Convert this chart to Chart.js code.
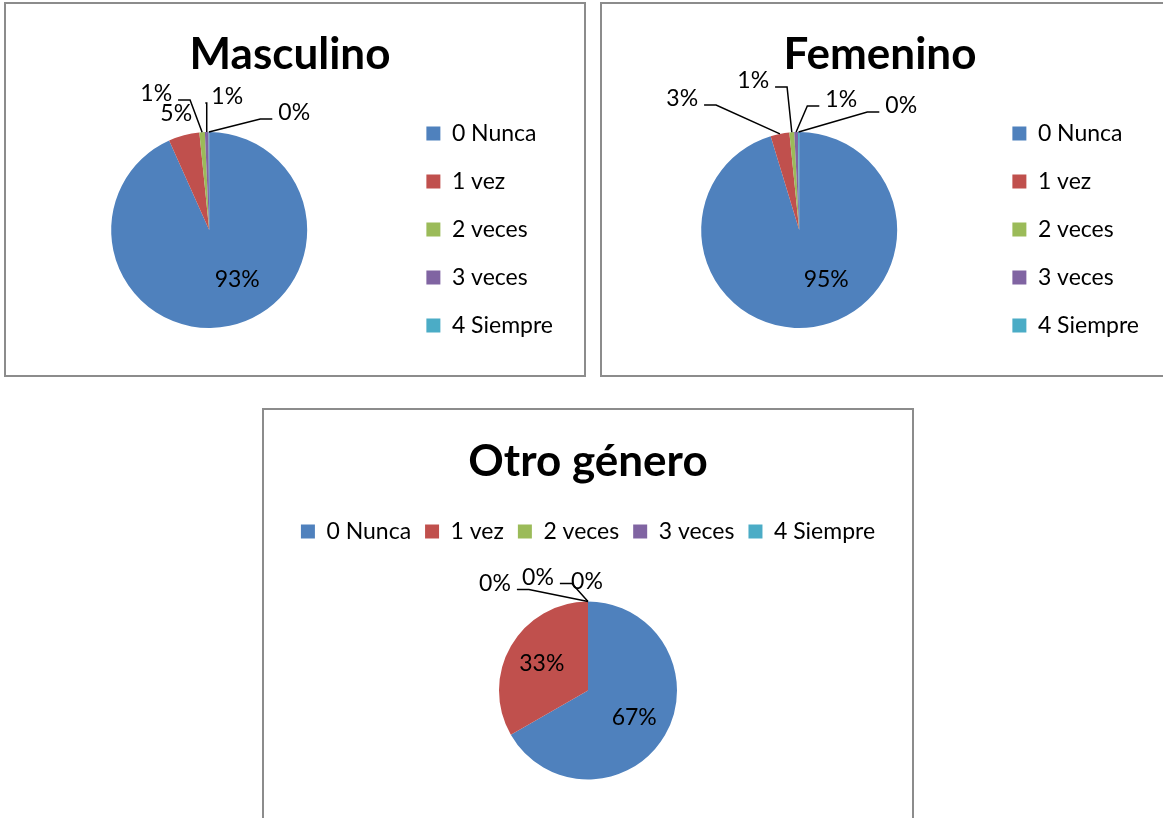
<!DOCTYPE html>
<html>
<head>
<meta charset="utf-8">
<script src="https://cdn.jsdelivr.net/npm/chart.js@4.4.1/dist/chart.umd.min.js"></script>
<style>
    html, body { margin: 0; padding: 0; background: #fff; width: 1163px; height: 818px; overflow: hidden; }
    .caja { position: absolute; border: 2px solid #8c8c8c; box-sizing: border-box; }
    canvas { position: absolute; }
</style>
</head>
<body>
<div class="caja" style="left:4px;top:2px;width:582px;height:375px"></div>
<div class="caja" style="left:600px;top:2px;width:580px;height:375px"></div>
<div class="caja" style="left:262px;top:408px;width:652px;height:500px"></div>
<canvas id="graficoMasculino" width="578" height="371" style="left:6px;top:4px"></canvas>
<canvas id="graficoFemenino" width="568" height="371" style="left:602px;top:4px"></canvas>
<canvas id="graficoOtro" width="648" height="430" style="left:264px;top:410px"></canvas>
<script>
// Datos (porcentajes)
const categorias = ['0 Nunca', '1 vez', '2 veces', '3 veces', '4 Siempre'];
const masculino = [93.3, 5.1, 0.9, 0.6, 0.1];
const femenino = [95.3, 3.1, 0.8, 0.6, 0.2];
const otroGenero = [66.7, 33.3, 0, 0, 0];
const colores = ['#4F81BD', '#C0504D', '#9BBB59', '#8064A2', '#4BACC6'];

const fuente = 'Lato, "Open Sans", sans-serif';

// Etiquetas de porcentaje con líneas guía (estilo Excel)
const etiquetasPlugin = {
    id: 'etiquetas',
    afterDatasetsDraw(chart, args, opts) {
        const ctx = chart.ctx;
        const meta = chart.getDatasetMeta(0);
        const data = chart.data.datasets[0].data;
        const total = data.reduce((a, b) => a + b, 0);
        ctx.save();
        ctx.font = '23px ' + fuente;
        ctx.fillStyle = '#000';
        ctx.strokeStyle = '#000';
        ctx.lineWidth = 1.5;
        ctx.textAlign = 'center';
        ctx.textBaseline = 'middle';
        meta.data.forEach((arc, i) => {
            const p = arc.getProps(['x', 'y', 'startAngle', 'endAngle', 'outerRadius'], true);
            const medio = (p.startAngle + p.endAngle) / 2;
            const texto = Math.round(data[i] / total * 100) + '%';
            const pos = opts.posiciones[i];
            let lx, ly;
            if (pos) {
                lx = p.x + pos[0];
                ly = p.y + pos[1];
            } else {
                lx = p.x + Math.cos(medio) * p.outerRadius * 0.6;
                ly = p.y + Math.sin(medio) * p.outerRadius * 0.6;
            }
            const ax = p.x + Math.cos(medio) * p.outerRadius;
            const ay = p.y + Math.sin(medio) * p.outerRadius;
            const fuera = Math.hypot(lx - p.x, ly - p.y) > p.outerRadius;
            if (fuera && Math.hypot(lx - ax, ly - ay) > 30) {
                const w = ctx.measureText(texto).width;
                const yl = ly + 6;
                let inicio, codo;
                if (lx > ax) {
                    inicio = lx - w / 2 - 6;
                    codo = Math.max(inicio - 12, ax);
                } else {
                    inicio = lx + w / 2 + 6;
                    codo = Math.min(inicio + 12, ax);
                }
                ctx.beginPath();
                ctx.moveTo(inicio, yl);
                ctx.lineTo(codo, yl);
                ctx.lineTo(ax, ay);
                ctx.stroke();
            }
            ctx.fillText(texto, lx, ly);
        });
        ctx.restore();
    }
};

function crearPie(id, titulo, valores, cfg) {
    return new Chart(document.getElementById(id), {
        type: 'pie',
        data: {
            labels: categorias,
            datasets: [{
                data: valores,
                backgroundColor: colores,
                borderWidth: 0,
                radius: cfg.radio
            }]
        },
        options: {
            responsive: false,
            animation: false,
            events: [],
            layout: { padding: cfg.padding },
            plugins: {
                title: {
                    display: true,
                    text: titulo,
                    color: '#000',
                    font: { family: fuente, size: 44, weight: 'bold', lineHeight: '48px' },
                    padding: cfg.paddingTitulo
                },
                legend: {
                    position: cfg.leyenda,
                    fullSize: false,
                    align: cfg.leyenda === 'right' ? 'start' : 'center',
                    labels: {
                        boxWidth: 14,
                        boxHeight: 14,
                        padding: cfg.paddingLeyenda,
                        color: '#000',
                        font: { family: fuente, size: 23 }
                    }
                },
                tooltip: { enabled: false },
                etiquetas: { posiciones: cfg.posiciones }
            }
        },
        plugins: [etiquetasPlugin]
    });
}

crearPie('graficoMasculino', 'Masculino', masculino, {
    radio: 98,
    padding: { left: 11, right: 21, top: 0, bottom: 12 },
    paddingTitulo: { top: 27, bottom: 18 },
    leyenda: 'right',
    paddingLeyenda: 25,
    posiciones: [[28, 50], [-33, -116], [-53, -136], [18, -133], [85, -117]]
});

crearPie('graficoFemenino', 'Femenino', femenino, {
    radio: 98,
    padding: { left: 9, right: 21, top: 0, bottom: 12 },
    paddingTitulo: { top: 27, bottom: 18 },
    leyenda: 'right',
    paddingLeyenda: 25,
    posiciones: [[27, 50], [-117, -131], [-46, -149], [42, -130], [102, -124]]
});

crearPie('graficoOtro', 'Otro género', otroGenero, {
    radio: 89,
    padding: { left: 0, right: 0, top: 0, bottom: 12 },
    paddingTitulo: { top: 28, bottom: 20 },
    leyenda: 'top',
    paddingLeyenda: 14,
    posiciones: [null, null, [-93, -107], [-50, -113], [-1, -109]]
});
</script>
</body>
</html>
